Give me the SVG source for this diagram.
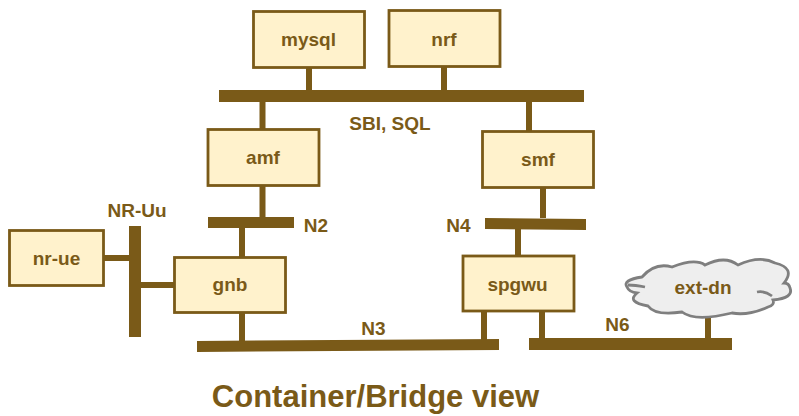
<svg xmlns="http://www.w3.org/2000/svg" width="799" height="416" viewBox="0 0 799 416">
<style>
.box{fill:#fff2cc;stroke:#7a5a18;stroke-width:2.800}
.t{font-family:"Liberation Sans",Arial,sans-serif;font-weight:bold;font-size:19px;fill:#7a5a18;text-anchor:middle}
.c{stroke:#7a5a18;stroke-width:6;fill:none}
.b{fill:#7a5a18}
</style>
<rect width="799" height="416" fill="#fff"/>
<g id="connectors">
<path class="c" d="M309 67V90M444 66V90M262.500 102V129M529 102V131M262.500 186V217M543 187V218M242 228V257M518 229V256M104 258H129M141 285H174M242 313V341M484 311V340M542 311V338M708 315V338"/>
<rect class="b" x="219" y="90" width="365" height="12"/>
<rect class="b" x="208" y="217" width="86" height="11"/>
<polygon class="b" points="485,218 586,219 586,230 485,229"/>
<rect class="b" x="129" y="226" width="12" height="111"/>
<polygon class="b" points="197,341 499,339 499,350 197,352"/>
<rect class="b" x="529" y="338" width="203" height="12"/>
</g>
<g id="mysql"><rect class="box" x="253.500" y="11.500" width="111" height="56"/><text class="t" x="308.500" y="46">mysql</text></g>
<g id="nrf"><rect class="box" x="389" y="10.500" width="111" height="56"/><text class="t" x="444" y="46">nrf</text></g>
<g id="amf"><rect class="box" x="208" y="129.500" width="111" height="56"/><text class="t" x="263" y="164">amf</text></g>
<g id="smf"><rect class="box" x="482.500" y="131.500" width="111" height="56"/><text class="t" x="538" y="166">smf</text></g>
<g id="nr-ue"><rect class="box" x="9.500" y="230.500" width="94" height="55"/><text class="t" x="56.500" y="265">nr-ue</text></g>
<g id="gnb"><rect class="box" x="174.500" y="257.500" width="111" height="55"/><text class="t" x="230" y="291">gnb</text></g>
<g id="spgwu"><rect class="box" x="463" y="256" width="111" height="55"/><text class="t" x="517.500" y="291">spgwu</text></g>
<g id="ext-dn"><path d="M642 277Q622 280 627 287Q629 292 637 293Q626 302 648 306Q655 316 682 312Q695 322 732 313Q748 316 768 307Q775 305 773 300Q794 298 790 288Q789 283 784 283Q796 268 775 263Q760 255 738 265Q725 255 705 265Q695 258 672 267Q655 262 642 277Z" fill="#eeeeee" stroke="#7f7f7f" stroke-width="2.800"/><path d="M628 285C634 285 640 286 645 287M757 292C762 291 768 293 772 296" fill="none" stroke="#7f7f7f" stroke-width="2.800"/><text class="t" x="703" y="294">ext-dn</text></g>
<g id="labels">
<text class="t" x="390" y="130">SBI, SQL</text>
<text class="t" x="137" y="217">NR-Uu</text>
<text class="t" x="316" y="232">N2</text>
<text class="t" x="458.500" y="232">N4</text>
<text class="t" x="373.500" y="335">N3</text>
<text class="t" x="617.500" y="331">N6</text>
<text class="t" x="375.500" y="407" style="font-size:31px">Container/Bridge view</text>
</g>
</svg>
